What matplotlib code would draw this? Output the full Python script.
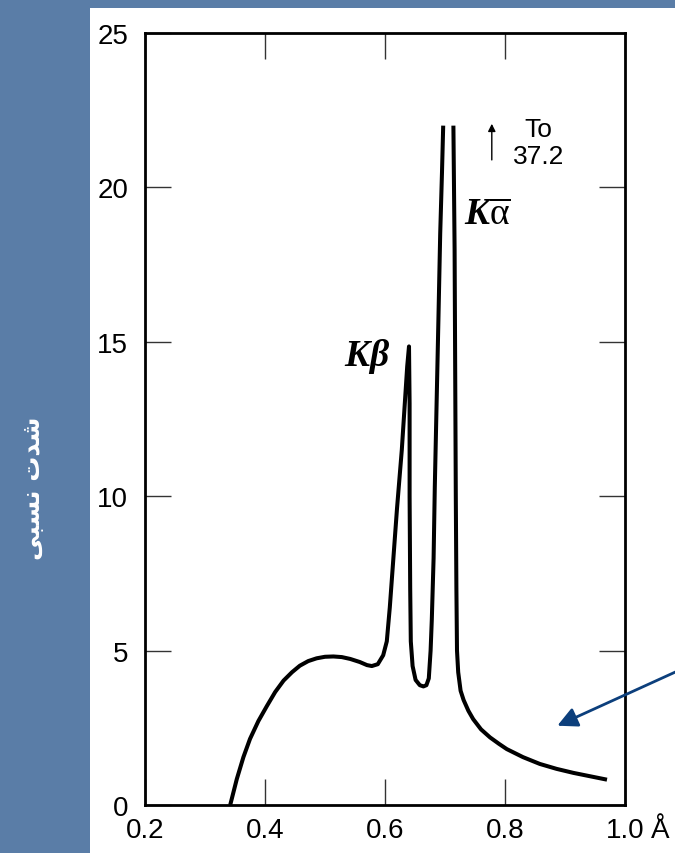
# -*- coding: utf-8 -*-

import numpy as np
import matplotlib.pyplot as plt
from matplotlib.patches import Rectangle

# wavelength (angstrom) and relative intensity;
# nan breaks the curve where the K-alpha peak runs off the top (to 37.2)
wavelength = [0.342, 0.353, 0.364, 0.375, 0.389, 0.403, 0.417, 0.431, 0.445, 0.458,
              0.472, 0.486, 0.500, 0.514, 0.528, 0.542, 0.558, 0.570, 0.578, 0.588,
              0.597, 0.603, 0.608, 0.614, 0.620, 0.628, 0.633, 0.637, 0.640, 0.641,
              0.641, 0.642, 0.643, 0.646, 0.651, 0.658, 0.664, 0.669, 0.673, 0.676,
              0.678, 0.681, 0.683, 0.686, 0.689, 0.692, 0.695, 0.697, np.nan,
              0.714, 0.716, 0.717, 0.718, 0.719, 0.720, 0.722, 0.726, 0.731, 0.739,
              0.747, 0.760, 0.775, 0.790, 0.803, 0.830, 0.858, 0.886, 0.914, 0.942,
              0.970]
intensity = [0.0, 0.84, 1.55, 2.14, 2.72, 3.20, 3.66, 4.03, 4.30, 4.51,
             4.66, 4.75, 4.80, 4.81, 4.79, 4.73, 4.63, 4.53, 4.50, 4.56,
             4.85, 5.3, 6.4, 8.0, 9.6, 11.5, 13.0, 14.2, 14.85, 13.0,
             10.0, 7.0, 5.3, 4.5, 4.05, 3.88, 3.84, 3.88, 4.1, 5.0,
             6.0, 8.0, 10.3, 13.0, 15.7, 18.5, 20.5, 22.0, np.nan,
             22.0, 18.0, 14.0, 10.0, 7.0, 5.0, 4.3, 3.7, 3.40, 3.05,
             2.78, 2.45, 2.19, 1.98, 1.81, 1.55, 1.33, 1.17, 1.04, 0.93,
             0.82]

x_ticks = [0.2, 0.4, 0.6, 0.8, 1.0]
x_labels = ['0.2', '0.4', '0.6', '0.8', '1.0']
y_ticks = [0, 5, 10, 15, 20, 25]
y_labels = ['0', '5', '10', '15', '20', '25']

# "شدت نسبی" written out in presentation forms (matplotlib does no arabic shaping)
ylabel_fa = '\ufef0\ufe92\ufeb4\ufee7 \ufe95\ufeaa\ufeb7'

plt.rcParams['mathtext.fontset'] = 'custom'
plt.rcParams['mathtext.it'] = 'Liberation Serif:italic:bold'
plt.rcParams['mathtext.rm'] = 'Liberation Serif'

fig = plt.figure(figsize=(6.75, 8.54), dpi=100, facecolor='#5a7da7')
# white slide panel
fig.patches.append(Rectangle((90 / 675, 0), 1 - 90 / 675, 845 / 854,
                             transform=fig.transFigure, facecolor='white',
                             edgecolor='none', zorder=-10))

ax = fig.add_axes([145 / 675, 1 - 806 / 854, 480 / 675, 772 / 854])
ax.set_zorder(1)
ax.set_facecolor('white')
ax.plot(wavelength, intensity, color='black', lw=2.9, solid_capstyle='butt',
        solid_joinstyle='round')

ax.set_xlim(0.2, 1.0)
ax.set_ylim(0, 25)
ax.set_xticks(x_ticks)
ax.set_xticklabels(x_labels)
ax.set_yticks(y_ticks)
ax.set_yticklabels(y_labels)
ax.tick_params(direction='in', length=19, width=1, color='#333333',
               top=True, right=True, labelsize=20, labelcolor='black')
ax.tick_params(axis='x', pad=9)
ax.tick_params(axis='y', pad=12)
for lab in ax.get_xticklabels() + ax.get_yticklabels():
    lab.set_family('Liberation Sans')
for sp in ax.spines.values():
    sp.set_linewidth(2.0)

# angstrom sign after the last tick label
ax.annotate('Å', xy=(1.0, 0), xytext=(25, -9), textcoords='offset points',
            ha='center', va='top', fontsize=20, family='Liberation Sans',
            annotation_clip=False)

# peak labels
ax.text(0.571, 14.55, r'$K\beta$', fontsize=27, ha='center', va='center')
ax.text(0.771, 19.15, r'$K\overline{\mathrm{\alpha}}$', fontsize=27,
        ha='center', va='center')
ax.annotate('', xy=(0.778, 22.15), xytext=(0.778, 20.8),
            arrowprops=dict(arrowstyle='-|>', color='black', lw=1,
                            mutation_scale=11))
ax.text(0.856, 21.45, 'To\n37.2', fontsize=19, family='Liberation Sans',
        ha='center', va='center', multialignment='center', linespacing=1.15)

# blue pointer coming in from the right edge of the slide
ax.annotate('', xy=(0.883, 2.53), xytext=(1.09, 4.36),
            arrowprops=dict(arrowstyle='-|>', color='#0c3f7c', lw=2,
                            mutation_scale=30),
            annotation_clip=False)

fig.text(33 / 675, 1 - 488 / 854, ylabel_fa, rotation=90, color='white',
         fontsize=18, fontweight='bold', family='DejaVu Sans',
         ha='center', va='center')

fig.savefig('out.png', dpi=100, facecolor=fig.get_facecolor())
